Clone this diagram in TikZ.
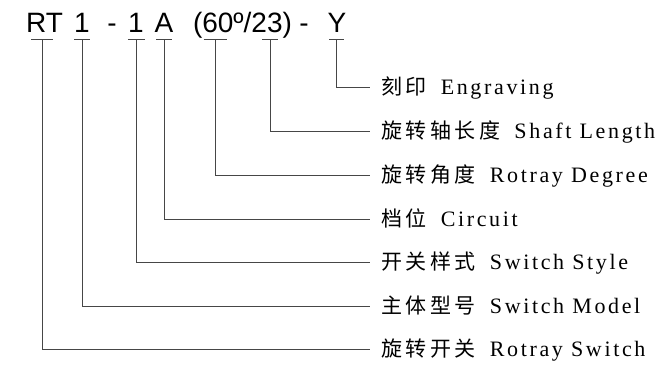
\documentclass[tikz,border=0pt]{standalone}
\usepackage{fontspec}
\setmainfont{Liberation Serif}
\newfontfamily\codefont{Liberation Sans}
\newfontfamily\cjk[LetterSpace=17]{Noto Sans CJK SC}
\newfontfamily\latin[LetterSpace=12]{Liberation Serif}
\usepackage{tikz}

\tikzset{
  code/.style={font=\codefont\fontsize{28}{28}\selectfont, inner sep=0pt, anchor=base},
  desc/.style={anchor=west, inner xsep=11pt, inner ysep=0pt, text height=16pt, text depth=2pt,
    font=\fontsize{21}{21}\selectfont},
  lead/.style={draw=gray!55!black, line width=1pt}
}
\newcommand\en[1]{\hspace{14pt}{\latin\fontsize{22}{22}\selectfont #1}}

\begin{document}
\begin{tikzpicture}[x=1pt,y=-1pt]
\useasboundingbox (0,0) rectangle (668,364);
\node[code] (rt) at (44.5,32) {RT};
\node[code] (num) at (82,32) {1};
\node[code] (hyA) at (112,32) {-};
\node[code] (sty) at (136,32) {1};
\node[code] (pos) at (164,32) {A};
\node[code] (ang) at (242.5,32) {(60º/23)};
\node[code] (hyB) at (304,32) {-};
\node[code] (eng) at (337,32) {Y};

\coordinate (tRT) at (42,39.3);
\coordinate (tNum) at (82,39.3);
\coordinate (tSty) at (136.3,39.3);
\coordinate (tPos) at (164.3,39.3);
\coordinate (tAng) at (215,39.3);
\coordinate (tLen) at (270,39.3);
\coordinate (tEng) at (336.7,39.3);

\node[desc] (dEng) at (370,87.5) {\cjk 刻印\en{Engraving}};
\node[desc] (dLen) at (370,131.7) {\cjk 旋转轴长度\en{Shaft Length}};
\node[desc] (dAng) at (370,175.7) {\cjk 旋转角度\en{Rotray Degree}};
\node[desc] (dPos) at (370,219) {\cjk 档位\en{Circuit}};
\node[desc] (dSty) at (370,262.7) {\cjk 开关样式\en{Switch Style}};
\node[desc] (dNum) at (370,306) {\cjk 主体型号\en{Switch Model}};
\node[desc] (dRT) at (370,349.3) {\cjk 旋转开关\en{Rotray Switch}};

\draw[lead] ([xshift=-11pt]tRT) -- ([xshift=11pt]tRT);
\draw[lead] ([xshift=-8pt]tNum) -- ([xshift=8pt]tNum);
\draw[lead] ([xshift=-8.5pt]tSty) -- ([xshift=8.5pt]tSty);
\draw[lead] ([xshift=-8pt]tPos) -- ([xshift=8pt]tPos);
\draw[lead] ([xshift=-11.5pt]tAng) -- ([xshift=11.5pt]tAng);
\draw[lead] ([xshift=-8pt]tLen) -- ([xshift=8pt]tLen);
\draw[lead] ([xshift=-7.5pt]tEng) -- ([xshift=7.5pt]tEng);

\draw[lead] (tEng) |- (dEng.west);
\draw[lead] (tLen) |- (dLen.west);
\draw[lead] (tAng) |- (dAng.west);
\draw[lead] (tPos) |- (dPos.west);
\draw[lead] (tSty) |- (dSty.west);
\draw[lead] (tNum) |- (dNum.west);
\draw[lead] (tRT) |- (dRT.west);
\end{tikzpicture}
\end{document}
